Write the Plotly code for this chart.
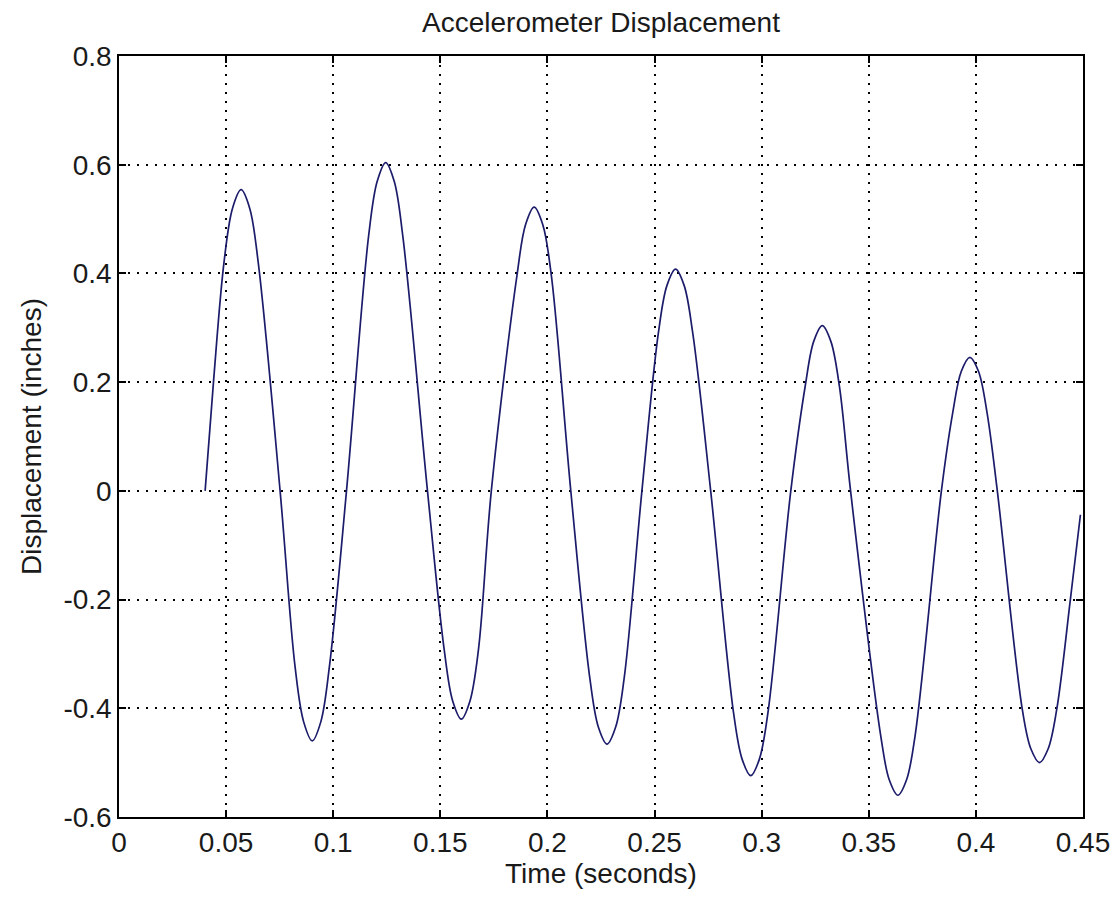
import plotly.graph_objects as go

# Data (time in seconds, displacement in inches)
time_s = [0.0402, 0.0441, 0.0490, 0.0530, 0.0570, 0.0610, 0.0650, 0.0752,
          0.0822, 0.0862, 0.0902, 0.0942, 0.0982, 0.1062,
          0.1165, 0.1205, 0.1245, 0.1285, 0.1325, 0.1440,
          0.1518, 0.1558, 0.1598, 0.1638, 0.1678, 0.1738,
          0.1858, 0.1898, 0.1938, 0.1978, 0.2018, 0.2109,
          0.2198, 0.2238, 0.2278, 0.2318, 0.2358, 0.2441,
          0.2518, 0.2558, 0.2598, 0.2638, 0.2678, 0.2762,
          0.2869, 0.2909, 0.2949, 0.2989, 0.3029, 0.3136,
          0.3203, 0.3243, 0.3283, 0.3323, 0.3363, 0.3415,
          0.3556, 0.3596, 0.3636, 0.3676, 0.3716, 0.3839,
          0.3892, 0.3932, 0.3972, 0.4012, 0.4052, 0.4100,
          0.4217, 0.4257, 0.4297, 0.4337, 0.4377, 0.4441, 0.4488]
displacement_in = [0.0, 0.2, 0.42, 0.52, 0.554, 0.52, 0.42, 0.0,
                   -0.324, -0.425, -0.46, -0.425, -0.324, 0.0,
                   0.468, 0.569, 0.604, 0.569, 0.468, 0.0,
                   -0.292, -0.387, -0.42, -0.387, -0.292, 0.0,
                   0.397, 0.49, 0.522, 0.49, 0.397, 0.0,
                   -0.345, -0.435, -0.466, -0.435, -0.345, 0.0,
                   0.291, 0.378, 0.408, 0.378, 0.291, 0.0,
                   -0.409, -0.494, -0.524, -0.494, -0.409, 0.0,
                   0.192, 0.275, 0.304, 0.275, 0.192, 0.0,
                   -0.451, -0.532, -0.56, -0.532, -0.451, 0.0,
                   0.144, 0.22, 0.2456, 0.22, 0.144, 0.0,
                   -0.403, -0.475, -0.5, -0.475, -0.403, -0.2, -0.044]

x_ticks = [0, 0.05, 0.1, 0.15, 0.2, 0.25, 0.3, 0.35, 0.4, 0.45]
x_tick_labels = ["0", "0.05", "0.1", "0.15", "0.2", "0.25", "0.3", "0.35", "0.4", "0.45"]
y_ticks = [-0.6, -0.4, -0.2, 0, 0.2, 0.4, 0.6, 0.8]
y_tick_labels = ["-0.6", "-0.4", "-0.2", "0", "0.2", "0.4", "0.6", "0.8"]

FONT = "Liberation Sans, Arial, sans-serif"
TEXT_COLOR = "#1a1a1a"
FS = 28

fig = go.Figure()
fig.add_trace(go.Scatter(
    x=time_s, y=displacement_in, mode="lines",
    line=dict(color="#1c1c6b", width=1.7, shape="spline", smoothing=1.0),
    showlegend=False, hoverinfo="x+y",
))

axis_common = dict(
    showline=True, linecolor="black", linewidth=1.5, mirror="ticks",
    ticks="inside", ticklen=7, tickwidth=1.5, tickcolor="black",
    showgrid=True, gridcolor="black", gridwidth=1.6, griddash="2px,7px",
    zeroline=False, ticklabeloverflow="allow", automargin=False,
    tickfont=dict(family=FONT, size=FS, color=TEXT_COLOR),
)

fig.update_xaxes(
    range=[0, 0.45], tickmode="array", tickvals=x_ticks, ticktext=x_tick_labels,
    title=dict(text="Time (seconds)", font=dict(family=FONT, size=FS, color=TEXT_COLOR), standoff=4),
    **axis_common,
)
fig.update_yaxes(
    range=[-0.6, 0.8], tickmode="array", tickvals=y_ticks, ticktext=y_tick_labels,
    title=dict(text="Displacement (inches)", font=dict(family=FONT, size=FS, color=TEXT_COLOR), standoff=14),
    **axis_common,
)

# The page body adds an 8px margin, so the figure is sized to fit inside the window
fig.update_layout(
    width=1102, height=887,
    margin=dict(l=111, r=27, t=48, b=78, autoexpand=False),
    paper_bgcolor="white", plot_bgcolor="white",
    title=dict(text="Accelerometer Displacement", x=0.5, xref="paper", xanchor="center",
               y=1 - 14 / 887, yanchor="middle",
               font=dict(family=FONT, size=FS, color=TEXT_COLOR)),
)

fig.write_html("out.html")
